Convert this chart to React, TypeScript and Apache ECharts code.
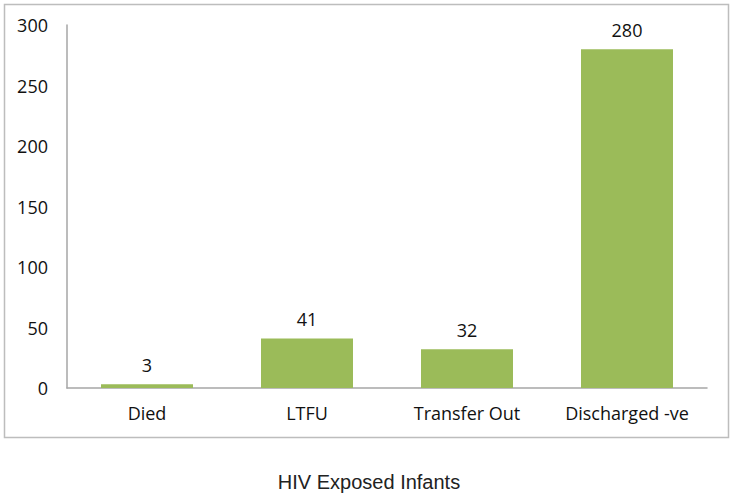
import React, { useEffect, useRef } from "react";
import * as echarts from "echarts";

const categories = ["Died", "LTFU", "Transfer Out", "Discharged -ve"];
const values = [3, 41, 32, 280];
const yTicks = [0, 50, 100, 150, 200, 250, 300];
const title = "HIV Exposed Infants";

export default function App() {
  const ref = useRef<HTMLDivElement>(null);
  useEffect(() => {
    if (!ref.current) return;
    const chart = echarts.init(ref.current, null, { renderer: "svg" });
    chart.setOption({
      animation: false,
      backgroundColor: "#ffffff",
      textStyle: { fontFamily: "Open Sans" },
      graphic: [
        {
          type: "rect",
          shape: { x: 4.5, y: 4.5, width: 724, height: 433 },
          style: { fill: "none", stroke: "#bdbdbd", lineWidth: 1.5 },
          silent: true,
        },
        {
          type: "text",
          x: 369,
          y: 482,
          style: {
            text: title,
            fontFamily: "Liberation Sans",
            fontSize: 20,
            fill: "#222",
            align: "center",
            verticalAlign: "middle",
          },
        },
      ],
      grid: { left: 67, right: 28, top: 25, bottom: 109 },
      xAxis: {
        type: "category",
        data: categories,
        axisLine: { lineStyle: { color: "#a6a6a6", width: 1.5 } },
        axisTick: { show: false },
        axisLabel: { color: "#111", fontSize: 18, margin: 16, interval: 0, fontFamily: "Open Sans" },
      },
      yAxis: {
        type: "value",
        min: 0,
        max: 300,
        interval: 50,
        axisLine: { show: true, lineStyle: { color: "#a6a6a6", width: 1.5 } },
        axisTick: { show: false },
        splitLine: { show: false },
        axisLabel: {
          color: "#111",
          fontSize: 18,
          margin: 19,
          fontFamily: "Open Sans",
          customValues: yTicks,
        },
      },
      series: [
        {
          type: "bar",
          data: values,
          barWidth: "57.5%",
          itemStyle: { color: "#9bbb59" },
          label: {
            show: true,
            position: "top",
            distance: 10,
            color: "#111",
            fontSize: 18,
            fontFamily: "Open Sans",
          },
        },
      ],
    });
    return () => chart.dispose();
  }, []);
  return <div ref={ref} style={{ width: 735, height: 497, position: "absolute", left: 0, top: 0 }} />;
}
